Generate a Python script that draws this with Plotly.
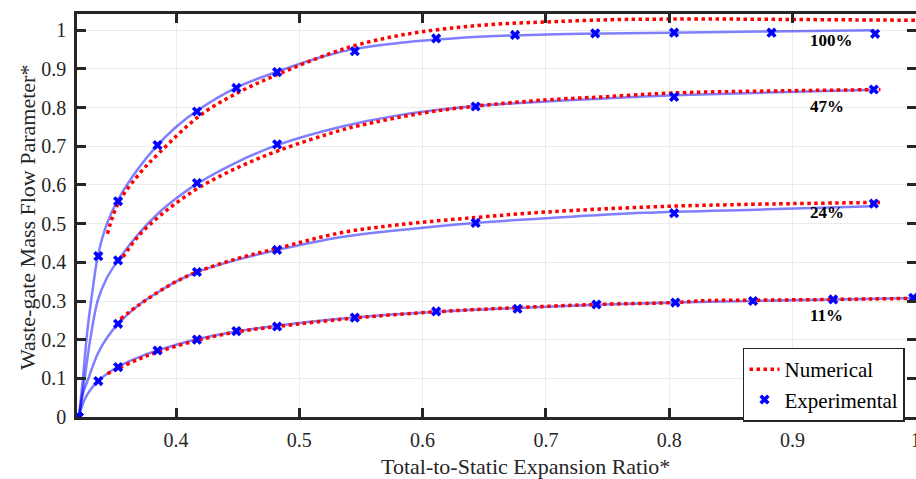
import plotly.graph_objects as go

# ---- experimental measurements (total-to-static expansion ratio*, mass flow parameter*) ----
exp_100_x = [0.321, 0.337, 0.353, 0.385, 0.417, 0.449, 0.482, 0.545, 0.611, 0.675, 0.740, 0.804, 0.883, 0.967]
exp_100_y = [0.000, 0.416, 0.558, 0.703, 0.790, 0.851, 0.892, 0.946, 0.979, 0.988, 0.992, 0.994, 0.994, 0.991]
exp_47_x = [0.321, 0.353, 0.417, 0.482, 0.643, 0.804, 0.966]
exp_47_y = [0.000, 0.405, 0.605, 0.705, 0.803, 0.828, 0.847]
exp_24_x = [0.321, 0.353, 0.417, 0.482, 0.643, 0.804, 0.966]
exp_24_y = [0.000, 0.241, 0.375, 0.432, 0.502, 0.527, 0.552]
exp_11_x = [0.321, 0.337, 0.353, 0.385, 0.417, 0.449, 0.482, 0.545, 0.611, 0.677, 0.741, 0.805, 0.868, 0.933, 0.998]
exp_11_y = [0.000, 0.093, 0.129, 0.172, 0.200, 0.222, 0.234, 0.257, 0.273, 0.280, 0.291, 0.296, 0.300, 0.304, 0.308]

# ---- fitted curves through the measurements ----
fit_100_x = [0.3213, 0.3245, 0.328, 0.332, 0.3366, 0.344, 0.353, 0.37, 0.385, 0.40, 0.417, 0.449, 0.482,
             0.52, 0.545, 0.58, 0.611, 0.65, 0.70, 0.75, 0.80, 0.88, 0.967]
fit_100_y = [0.0, 0.10, 0.22, 0.32, 0.416, 0.50, 0.562, 0.645, 0.703, 0.75, 0.792, 0.852, 0.893,
             0.933, 0.952, 0.967, 0.976, 0.984, 0.989, 0.992, 0.994, 0.997, 1.0]
fit_47_x = [0.3213, 0.3257, 0.3303, 0.3366, 0.344, 0.353, 0.37, 0.385, 0.40, 0.417, 0.45, 0.482,
            0.533, 0.58, 0.643, 0.70, 0.744, 0.804, 0.88, 0.966]
fit_47_y = [0.0, 0.095, 0.198, 0.302, 0.36, 0.405, 0.475, 0.525, 0.565, 0.603, 0.660, 0.703,
            0.750, 0.780, 0.804, 0.816, 0.823, 0.832, 0.839, 0.846]
fit_24_x = [0.3213, 0.3245, 0.3284, 0.3366, 0.344, 0.353, 0.37, 0.385, 0.40, 0.417, 0.45, 0.482,
            0.533, 0.58, 0.643, 0.70, 0.78, 0.88, 0.966]
fit_24_y = [0.0, 0.06, 0.095, 0.164, 0.205, 0.241, 0.29, 0.322, 0.35, 0.375, 0.407, 0.432,
            0.465, 0.483, 0.502, 0.514, 0.528, 0.537, 0.545]
fit_11_x = [0.3213, 0.3235, 0.3257, 0.33, 0.3374, 0.353, 0.37, 0.385, 0.417, 0.449, 0.482, 0.545,
            0.611, 0.677, 0.741, 0.805, 0.868, 0.933, 1.0]
fit_11_y = [0.0, 0.025, 0.044, 0.068, 0.095, 0.130, 0.155, 0.172, 0.201, 0.221, 0.236, 0.257,
            0.272, 0.282, 0.290, 0.296, 0.300, 0.304, 0.308]

# ---- numerical model results ----
num_100_x = [0.3444, 0.353, 0.37, 0.387, 0.4195, 0.451, 0.484, 0.525, 0.549, 0.575, 0.599, 0.63,
             0.66, 0.695, 0.76, 0.80, 0.85, 0.90, 0.95, 1.0]
num_100_y = [0.474, 0.552, 0.628, 0.685, 0.780, 0.840, 0.888, 0.940, 0.964, 0.983, 0.996, 1.008,
             1.016, 1.021, 1.028, 1.029, 1.029, 1.028, 1.027, 1.026]
num_47_x = [0.357, 0.37, 0.385, 0.40, 0.4195, 0.45, 0.484, 0.533, 0.549, 0.60, 0.643, 0.70,
            0.744, 0.8034, 0.88, 0.9714]
num_47_y = [0.414, 0.470, 0.515, 0.553, 0.595, 0.645, 0.690, 0.741, 0.754, 0.786, 0.804, 0.820,
            0.8275, 0.838, 0.843, 0.8467]
num_24_x = [0.355, 0.37, 0.385, 0.40, 0.417, 0.45, 0.482, 0.533, 0.58, 0.643, 0.70, 0.7817, 0.85, 0.971]
num_24_y = [0.254, 0.290, 0.322, 0.350, 0.375, 0.410, 0.436, 0.476, 0.497, 0.516, 0.530, 0.543, 0.549, 0.555]
num_11_x = [0.3444, 0.353, 0.37, 0.385, 0.417, 0.449, 0.482, 0.545, 0.611, 0.677, 0.741, 0.805,
            0.83, 0.868, 0.933, 1.0]
num_11_y = [0.112, 0.125, 0.150, 0.168, 0.198, 0.220, 0.234, 0.256, 0.272, 0.283, 0.291, 0.296,
            0.301, 0.302, 0.304, 0.307]

# ---- opening labels ----
label_text = ["100%", "47%", "24%", "11%"]
label_x = [0.9126, 0.9126, 0.9126, 0.9126]
label_y = [0.974, 0.802, 0.529, 0.262]

x_ticks = [0.4, 0.5, 0.6, 0.7, 0.8, 0.9, 1.0]
x_tick_text = ["0.4", "0.5", "0.6", "0.7", "0.8", "0.9", "1"]
y_ticks = [0, 0.1, 0.2, 0.3, 0.4, 0.5, 0.6, 0.7, 0.8, 0.9, 1.0]
y_tick_text = ["0", "0.1", "0.2", "0.3", "0.4", "0.5", "0.6", "0.7", "0.8", "0.9", "1"]

FONT = "Liberation Serif"
INK = "#262626"

fits = [(fit_100_x, fit_100_y), (fit_47_x, fit_47_y), (fit_24_x, fit_24_y), (fit_11_x, fit_11_y)]
nums = [(num_100_x, num_100_y), (num_47_x, num_47_y), (num_24_x, num_24_y), (num_11_x, num_11_y)]
exps = [(exp_100_x, exp_100_y), (exp_47_x, exp_47_y), (exp_24_x, exp_24_y), (exp_11_x, exp_11_y)]

fig = go.Figure()

for fx, fy in fits:
    fig.add_trace(go.Scatter(x=fx, y=fy, mode="lines", showlegend=False, hoverinfo="skip",
                             line=dict(color="rgba(0,0,255,0.5)", width=2.5, shape="spline")))

for i, (nx, ny) in enumerate(nums):
    fig.add_trace(go.Scatter(x=nx, y=ny, mode="lines", name="Numerical", legendgroup="num",
                             showlegend=(i == 0),
                             line=dict(color="#ff0000", width=3.5, dash="3.5px,3.5px", shape="spline")))

for i, (ex, ey) in enumerate(exps):
    fig.add_trace(go.Scatter(x=ex, y=ey, mode="markers", name="Experimental", legendgroup="exp",
                             showlegend=(i == 0),
                             marker=dict(symbol="x", size=9, color="#0000ff", line=dict(width=0))))

for t, lx, ly in zip(label_text, label_x, label_y):
    fig.add_annotation(x=lx, y=ly, xref="x", yref="y", text="<b>" + t + "</b>", showarrow=False,
                       xanchor="left", yanchor="middle", font=dict(family=FONT, size=17, color="#000000"))

# axis titles
fig.add_annotation(x=0.534, y=0, xref="paper", yref="paper", yshift=-49, showarrow=False,
                   text="Total-to-Static Expansion Ratio*", xanchor="center", yanchor="middle",
                   font=dict(family=FONT, size=22, color=INK))
fig.add_annotation(x=-0.0596, y=0.496, xref="paper", yref="paper", showarrow=False, textangle=-90,
                   text="Waste-gate Mass Flow Parameter*", xanchor="center", yanchor="middle",
                   font=dict(family=FONT, size=22, color=INK))

axis_common = dict(showline=True, linecolor=INK, linewidth=2.5, mirror="ticks",
                   ticks="inside", ticklen=9, tickwidth=2.5, tickcolor=INK,
                   showgrid=True, gridcolor="#ebebeb", gridwidth=1, zeroline=False,
                   tickfont=dict(family=FONT, size=20, color=INK), automargin=False,
                   ticklabeloverflow="allow")

fig.update_xaxes(range=[0.3197, 1.0002], tickvals=x_ticks, ticktext=x_tick_text,
                 ticklabelstandoff=3, **axis_common)
fig.update_yaxes(range=[0, 1.0422], tickvals=y_ticks, ticktext=y_tick_text,
                 ticklabelstandoff=4, **axis_common)

fig.update_layout(
    template="none",
    width=916, height=479,
    margin=dict(l=77, r=0, t=14, b=62),
    paper_bgcolor="white", plot_bgcolor="white",
    legend=dict(x=0.7938, y=0.1723, xanchor="left", yanchor="top",
                bgcolor="white", bordercolor=INK, borderwidth=1.5,
                font=dict(family=FONT, size=21, color="#000000"),
                traceorder="normal"),
)

fig.write_html("out.html")
